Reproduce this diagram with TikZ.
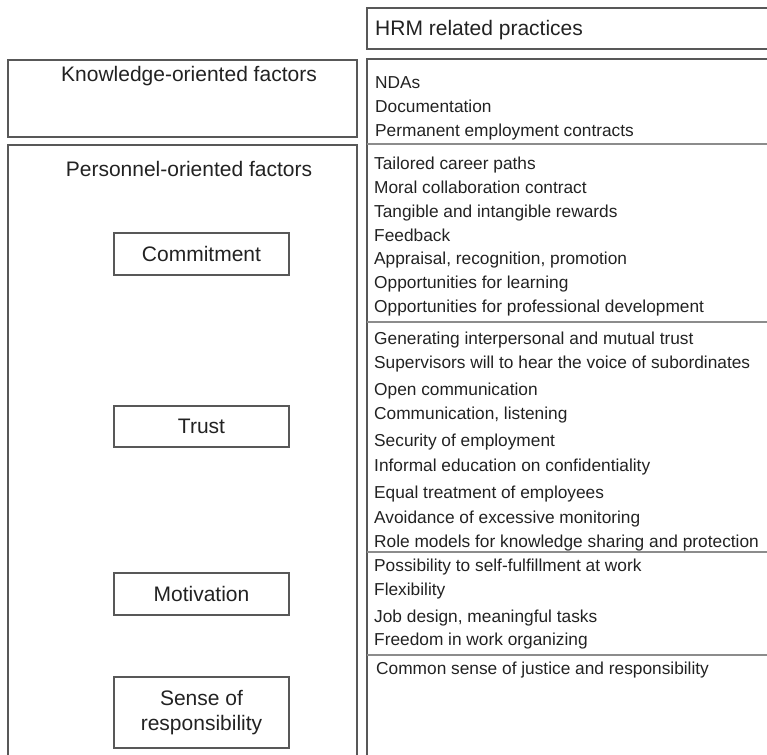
\documentclass[tikz,border=0pt]{standalone}
\usepackage{fontspec}
\setmainfont{Liberation Sans}
\definecolor{boxline}{HTML}{585858}
\definecolor{sepline}{HTML}{8C8C8C}
\definecolor{txt}{HTML}{222222}
\begin{document}
\begin{tikzpicture}[x=1pt,y=-1pt,
  frame/.style={draw=boxline,line width=1.8pt},
  sep/.style={draw=sepline,line width=1.6pt},
  title/.style={font=\fontsize{21}{25}\selectfont,text=txt,inner sep=0pt,align=center},
  item/.style={font=\fontsize{17.3}{20}\selectfont,text=txt,inner sep=0pt,anchor=west,text height=0.72em,text depth=0pt},
  factor/.style={draw=boxline,line width=1.6pt,minimum width=175pt,inner sep=0pt,font=\fontsize{21}{24.5}\selectfont,text=txt,align=center}]
\useasboundingbox (0,0) rectangle (767,754);
\begin{scope}
\clip (0,0) rectangle (767,754);
% HRM header
\draw[frame] (367,8) rectangle (775,49);
\node[title,anchor=west] (hrm) at (375,30.5) {HRM related practices};
% right column
\draw[frame] (775,59) -- (367,59) -- (367,770);
\draw[sep] (367,144) -- (775,144);
\draw[sep] (367,322) -- (775,322);
\draw[sep] (367,552) -- (775,552);
\draw[sep] (367,655) -- (775,655);
% left boxes
\draw[frame] (8,60) rectangle (357,137);
\node[title] (kof) at (189,76.5) {Knowledge-oriented factors};
\draw[frame] (357,770) -- (357,145) -- (8,145) -- (8,770);
\node[title] (pof) at (189,168.5) {Personnel-oriented factors};
\end{scope}
\node[factor,minimum height=42pt] (com) at (201.5,254) {Commitment};
\node[factor,minimum height=41pt] (tru) at (201.5,426.5) {Trust};
\node[factor,minimum height=42pt] (mot) at (201.5,594) {Motivation};
\node[factor,minimum height=71pt] (sor) at (201.5,712.5) {Sense of\\responsibility};
% items
\node[item] (i1) at (375,84.5) {NDAs};
\node[item] (i2) at (375,108.5) {Documentation};
\node[item] (i3) at (375,132.5) {Permanent employment contracts};
\node[item] (c1) at (374,165.5) {Tailored career paths};
\node[item] (c2) at (374,189.5) {Moral collaboration contract};
\node[item] (c3) at (374,213.5) {Tangible and intangible rewards};
\node[item] (c4) at (374,237.5) {Feedback};
\node[item] (c5) at (374,260.5) {Appraisal, recognition, promotion};
\node[item] (c6) at (374,284.5) {Opportunities for learning};
\node[item] (c7) at (374,308.5) {Opportunities for professional development};
\node[item] (t1) at (374,340.5) {Generating interpersonal and mutual trust};
\node[item] (t2) at (374,364.5) {Supervisors will to hear the voice of subordinates};
\node[item] (t3) at (374,391.5) {Open communication};
\node[item] (t4) at (374,415.5) {Communication, listening};
\node[item] (t5) at (374,442.5) {Security of employment};
\node[item] (t6) at (374,467.5) {Informal education on confidentiality};
\node[item] (t7) at (374,494.5) {Equal treatment of employees};
\node[item] (t8) at (374,519.5) {Avoidance of excessive monitoring};
\node[item] (t9) at (374,544) {Role models for knowledge sharing and protection};
\node[item] (m1) at (374,568) {Possibility to self-fulfillment at work};
\node[item] (m2) at (374,592) {Flexibility};
\node[item] (m3) at (374,619) {Job design, meaningful tasks};
\node[item] (m4) at (374,642) {Freedom in work organizing};
\node[item] (s1) at (376,670.5) {Common sense of justice and responsibility};
\end{tikzpicture}
\end{document}
